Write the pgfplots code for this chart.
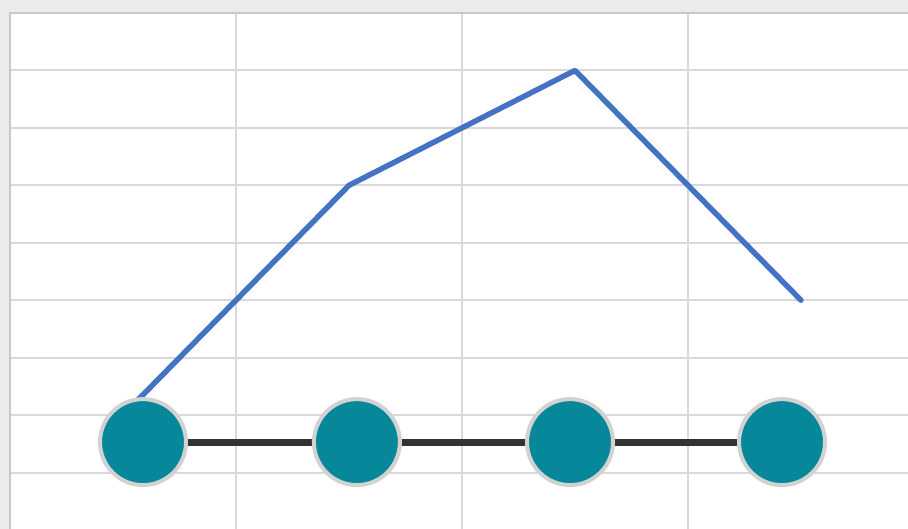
\documentclass[border=0pt]{standalone}
\usepackage{pgfplots}
\pgfplotsset{compat=1.18}
\definecolor{bg}{HTML}{EBEBEB}
\definecolor{gridc}{HTML}{D9D9D9}
\definecolor{bord}{HTML}{C8C8C8}
\definecolor{blueline}{HTML}{4472C4}
\definecolor{tealc}{HTML}{06879A}
\definecolor{circb}{HTML}{D2D2D2}
\definecolor{darkline}{HTML}{333333}
\begin{document}
\begin{tikzpicture}
\useasboundingbox (0,0) rectangle (681pt,396.75pt);
\clip (0,0) rectangle (681pt,396.75pt);
\fill[bg] (0,0) rectangle (681pt,396.75pt);
\begin{axis}[at={(7.5pt,-0.75pt)}, anchor=south west, scale only axis,
  width=678pt, height=387.75pt,
  xmin=0.5, xmax=4.5, ymin=0, ymax=9,
  xtick={0.5,1.5,2.5,3.5,4.5}, ytick={0,1,2,3,4,5,6,7,8,9},
  xticklabels={}, yticklabels={}, major tick length=0pt,
  grid=major, major grid style={gridc, line width=1.5pt},
  axis line style={bord, line width=1.5pt},
  axis background/.style={fill=white}]
\addplot[blueline, line width=4.1pt, line cap=round, line join=round] coordinates {(1,2) (2,6) (3,8) (4,4)};
\addplot[darkline, line width=5.25pt, mark=*, mark size=32.25pt,
  mark options={fill=tealc, draw=circb, line width=3pt}]
  coordinates {(1.0885,1.53) (2.035,1.53) (2.978,1.53) (3.916,1.53)};
\end{axis}
\end{tikzpicture}
\end{document}
